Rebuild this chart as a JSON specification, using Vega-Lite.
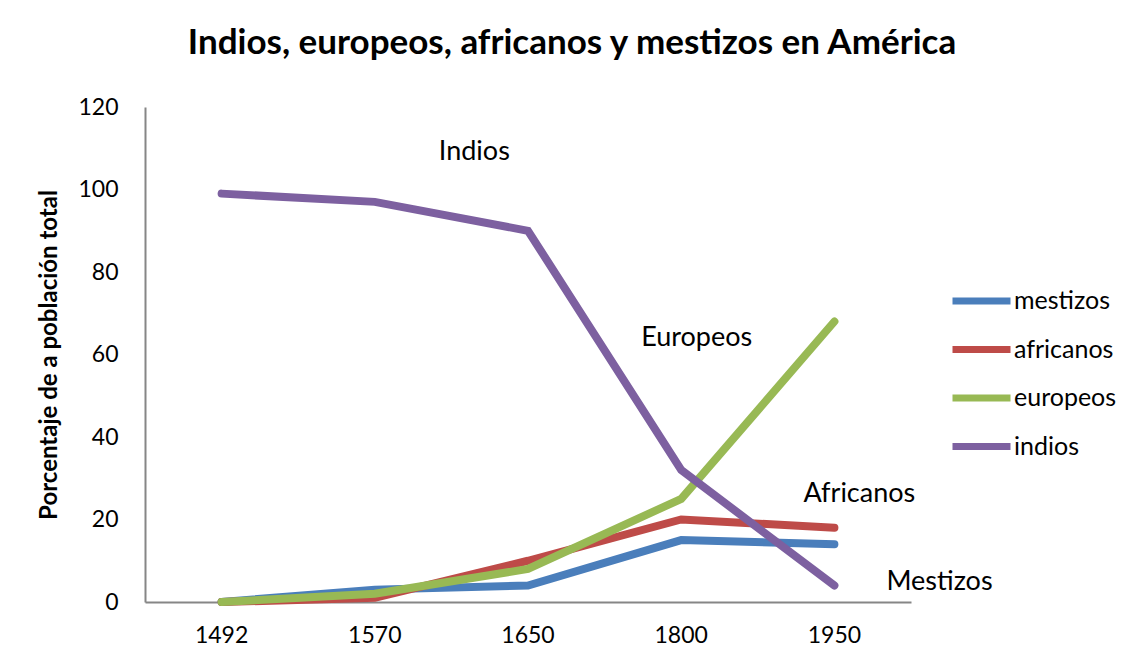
{
  "$schema": "https://vega.github.io/schema/vega-lite/v6.json",
  "width": 766,
  "height": 495,
  "autosize": {"type": "none"},
  "padding": {"left": 145, "top": 107, "right": 222, "bottom": 65},
  "background": "white",
  "config": {"view": {"stroke": null}, "font": "Lato"},
  "title": {
    "text": "Indios, europeos, africanos y mestizos en América",
    "fontSize": 35,
    "fontWeight": "bold",
    "font": "Lato",
    "color": "black",
    "anchor": "middle",
    "frame": "group",
    "dx": 44,
    "baseline": "alphabetic",
    "offset": 7
  },
  "layer": [
    {
      "data": {
        "values": [
          {"serie": "mestizos", "year": 1492, "value": 0},
          {"serie": "mestizos", "year": 1570, "value": 3},
          {"serie": "mestizos", "year": 1650, "value": 4},
          {"serie": "mestizos", "year": 1800, "value": 15},
          {"serie": "mestizos", "year": 1950, "value": 14},
          {"serie": "africanos", "year": 1492, "value": 0},
          {"serie": "africanos", "year": 1570, "value": 1},
          {"serie": "africanos", "year": 1650, "value": 10},
          {"serie": "africanos", "year": 1800, "value": 20},
          {"serie": "africanos", "year": 1950, "value": 18},
          {"serie": "europeos", "year": 1492, "value": 0},
          {"serie": "europeos", "year": 1570, "value": 2},
          {"serie": "europeos", "year": 1650, "value": 8},
          {"serie": "europeos", "year": 1800, "value": 25},
          {"serie": "europeos", "year": 1950, "value": 68},
          {"serie": "indios", "year": 1492, "value": 99},
          {"serie": "indios", "year": 1570, "value": 97},
          {"serie": "indios", "year": 1650, "value": 90},
          {"serie": "indios", "year": 1800, "value": 32},
          {"serie": "indios", "year": 1950, "value": 4}
        ]
      },
      "mark": {"type": "line", "strokeWidth": 8, "strokeCap": "round", "strokeJoin": "miter"},
      "encoding": {
        "x": {
          "field": "year",
          "type": "ordinal",
          "scale": {"type": "band", "paddingInner": 0, "paddingOuter": 0},
          "bandPosition": 0.5,
          "axis": {
            "title": null,
            "domain": true,
            "domainColor": "#868686",
            "domainWidth": 2,
            "ticks": false,
            "grid": false,
            "labelAngle": 0,
            "labelFontSize": 23,
            "labelColor": "black",
            "labelPadding": 22
          }
        },
        "y": {
          "field": "value",
          "type": "quantitative",
          "scale": {"domain": [0, 120]},
          "axis": {
            "title": "Porcentaje de a población total",
            "titleFontSize": 24,
            "titleFontWeight": "bold",
            "titleColor": "black",
            "titlePadding": 16,
            "values": [0, 20, 40, 60, 80, 100, 120],
            "ticks": false,
            "grid": false,
            "domainColor": "#868686",
            "domainWidth": 2,
            "labelFontSize": 23,
            "labelColor": "black",
            "labelPadding": 27
          }
        },
        "color": {
          "field": "serie",
          "type": "nominal",
          "scale": {
            "domain": ["mestizos", "africanos", "europeos", "indios"],
            "range": ["#4A7EBB", "#BE4B48", "#98B954", "#7D60A0"]
          },
          "legend": {
            "title": null,
            "orient": "none",
            "legendX": 804,
            "legendY": 181,
            "symbolType": "stroke",
            "symbolSize": 3364,
            "symbolStrokeWidth": 7,
            "clipHeight": 26,
            "rowPadding": 22.5,
            "labelFontSize": 25,
            "labelColor": "black",
            "labelOffset": 0,
            "padding": 0
          }
        }
      }
    },
    {
      "data": {"values": [{"year": 1570, "value": 107.2, "label": "Indios"}]},
      "mark": {"type": "text", "fontSize": 27, "align": "left", "baseline": "alphabetic", "dx": 64, "color": "black"},
      "encoding": {
        "x": {"field": "year", "type": "ordinal", "bandPosition": 0.5},
        "y": {"field": "value", "type": "quantitative"},
        "text": {"field": "label"}
      }
    },
    {
      "data": {"values": [{"year": 1800, "value": 62.1, "label": "Europeos"}]},
      "mark": {"type": "text", "fontSize": 27, "align": "left", "baseline": "alphabetic", "dx": -40, "color": "black"},
      "encoding": {
        "x": {"field": "year", "type": "ordinal", "bandPosition": 0.5},
        "y": {"field": "value", "type": "quantitative"},
        "text": {"field": "label"}
      }
    },
    {
      "data": {"values": [{"year": 1950, "value": 24.2, "label": "Africanos"}]},
      "mark": {"type": "text", "fontSize": 27, "align": "left", "baseline": "alphabetic", "dx": -31, "color": "black"},
      "encoding": {
        "x": {"field": "year", "type": "ordinal", "bandPosition": 0.5},
        "y": {"field": "value", "type": "quantitative"},
        "text": {"field": "label"}
      }
    },
    {
      "data": {"values": [{"year": 1950, "value": 2.9, "label": "Mestizos"}]},
      "mark": {"type": "text", "fontSize": 27, "align": "left", "baseline": "alphabetic", "dx": 52, "color": "black"},
      "encoding": {
        "x": {"field": "year", "type": "ordinal", "bandPosition": 0.5},
        "y": {"field": "value", "type": "quantitative"},
        "text": {"field": "label"}
      }
    }
  ]
}
